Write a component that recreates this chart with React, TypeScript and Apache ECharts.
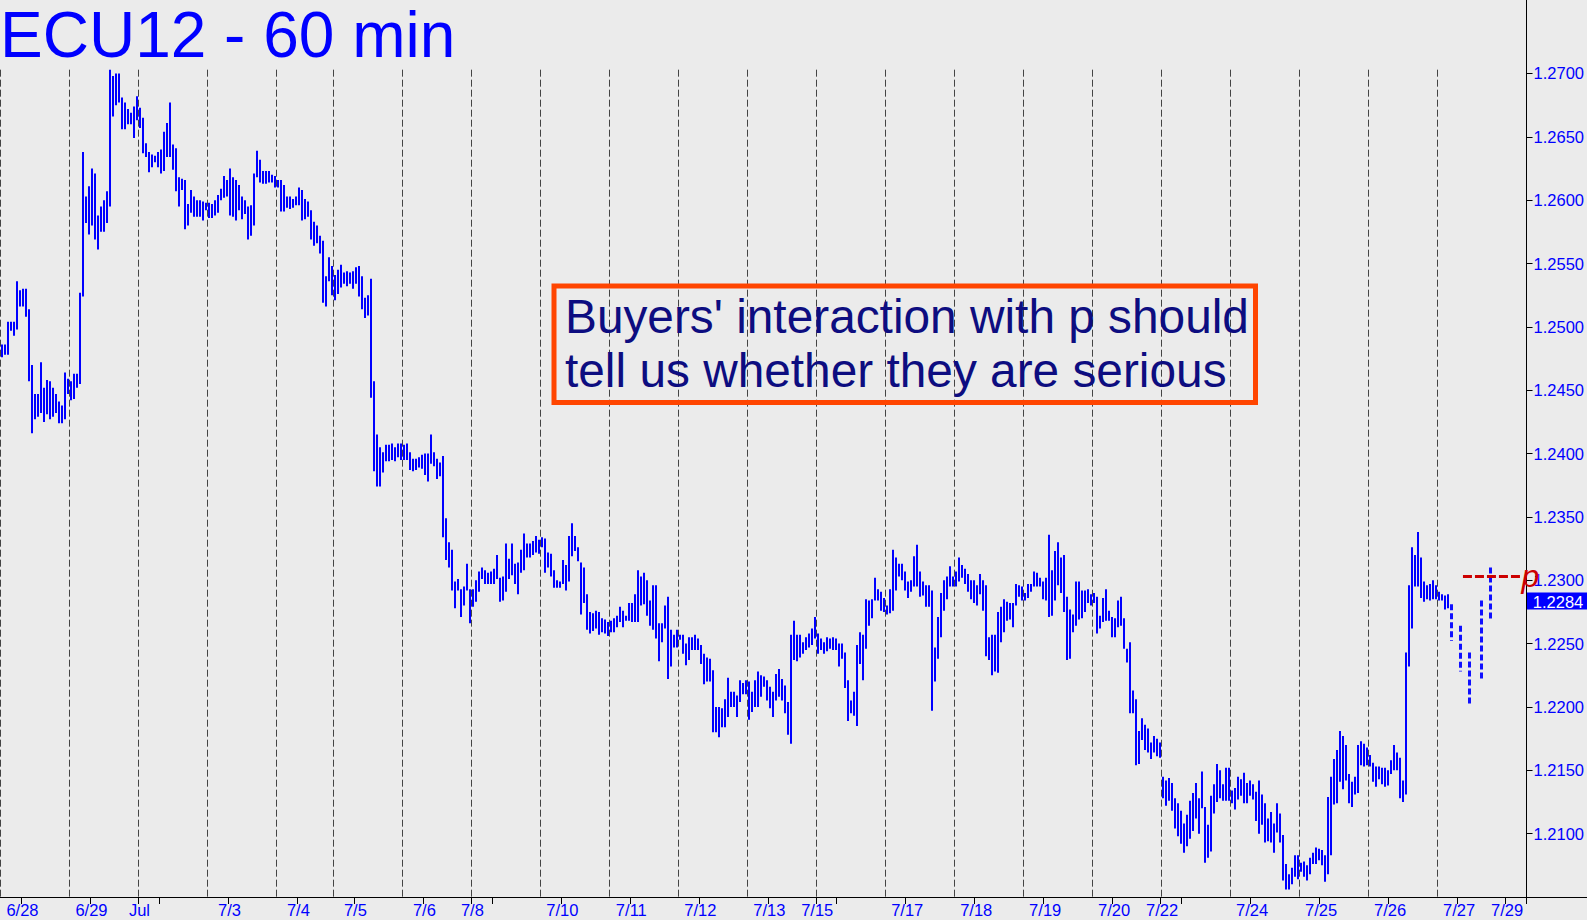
import React, { useEffect, useRef } from 'react';
import * as echarts from 'echarts';

const TITLE = 'ECU12 - 60 min';
const NOTE_LINES = ["Buyers' interaction with p should", 'tell us whether they are serious'];

// number of hourly slots on the x axis (bars + empty space at right)
const SLOT_COUNT = 509;

// hourly bar highs / lows, in bar order
const highs = [
  1.2486,1.2486,1.2504,1.2504,1.2504,1.2536,1.2529,1.2530,1.2530,1.2514,1.2470,1.2447,1.2447,1.2472,1.2452,1.2458,1.2457,1.2452,1.2447,1.2441,1.2438,1.2464,1.2459,
  1.2457,1.2463,1.2463,1.2527,1.2638,1.2603,1.2611,1.2625,1.2621,1.2588,1.2595,1.2600,1.2607,1.2703,1.2698,1.2700,1.2700,1.2681,1.2677,1.2672,1.2669,1.2674,1.2682,
  1.2673,1.2665,1.2645,1.2638,1.2636,1.2635,1.2638,1.2640,1.2654,1.2661,1.2677,1.2644,1.2641,1.2618,1.2617,1.2616,1.2597,1.2608,1.2603,1.2600,1.2600,1.2599,1.2598,
  1.2598,1.2597,1.2600,1.2604,1.2609,1.2619,1.2616,1.2625,1.2618,1.2616,1.2612,1.2603,1.2600,1.2595,1.2596,1.2621,1.2639,1.2632,1.2623,1.2623,1.2623,1.2620,1.2619,
  1.2616,1.2616,1.2612,1.2603,1.2603,1.2601,1.2603,1.2610,1.2608,1.2601,1.2599,1.2592,1.2583,1.2580,1.2572,1.2568,1.2540,1.2555,1.2548,
  1.2541,1.2545,1.2549,1.2543,1.2544,1.2543,1.2544,1.2547,1.2548,1.2540,1.2523,1.2525,1.2538,1.2457,1.2415,1.2405,1.2401,1.2407,1.2407,1.2408,1.2405,1.2408,1.2408,
  1.2407,1.2408,1.2401,1.2396,1.2396,1.2397,1.2399,1.2400,1.2400,1.2415,1.2401,1.2396,1.2393,1.2398,1.2349,1.2330,1.2324,1.2299,1.2301,1.2293,1.2295,1.2313,1.2293,
  1.2293,1.2300,1.2307,1.2310,1.2308,1.2306,1.2307,1.2309,1.2320,1.2302,1.2303,1.2329,1.2317,1.2329,1.2313,1.2314,1.2324,1.2337,1.2329,1.2329,1.2331,1.2335,1.2332,
  1.2334,1.2333,1.2322,1.2321,1.2308,1.2300,1.2299,1.2316,1.2312,1.2335,1.2345,1.2335,1.2326,1.2314,1.2310,1.2289,1.2275,1.2274,1.2276,1.2275,1.2270,1.2269,1.2267,
  1.2268,1.2270,1.2272,1.2279,1.2276,1.2272,1.2282,1.2282,1.2289,1.2308,1.2303,1.2306,1.2300,1.2284,1.2296,1.2296,1.2266,1.2266,1.2280,1.2287,1.2261,1.2257,1.2261,
  1.2257,1.2257,1.2250,1.2255,1.2255,1.2257,1.2254,1.2249,1.2242,1.2239,1.2238,1.2229,1.2200,1.2200,1.2199,1.2206,1.2223,1.2212,1.2212,1.2209,1.2221,1.2219,1.2221,
  1.2220,1.2212,1.2221,1.2228,1.2225,1.2224,1.2221,1.2216,1.2212,1.2226,1.2230,1.2222,1.2217,1.2204,1.2257,1.2268,1.2257,1.2257,1.2251,1.2255,1.2258,1.2262,1.2271,
  1.2258,1.2254,1.2251,1.2255,1.2254,1.2255,1.2254,1.2250,1.2250,1.2243,1.2221,1.2205,1.2212,1.2249,1.2259,1.2257,1.2285,1.2284,1.2285,1.2302,1.2293,1.2291,1.2286,
  1.2280,1.2293,1.2324,1.2318,1.2313,1.2313,1.2307,1.2299,1.2300,1.2319,1.2328,1.2307,1.2299,1.2296,1.2296,1.2292,1.2247,1.2271,1.2290,1.2300,1.2303,1.2311,1.2303,
  1.2307,1.2318,1.2312,1.2309,1.2305,1.2300,1.2300,1.2296,1.2305,1.2300,1.2296,1.2255,1.2257,1.2257,1.2275,1.2279,1.2285,1.2283,1.2282,1.2282,1.2297,1.2296,1.2295,
  1.2290,1.2297,1.2297,1.2307,1.2306,1.2302,1.2299,1.2302,1.2336,1.2308,1.2323,1.2330,1.2318,1.2320,1.2287,1.2277,1.2273,1.2299,1.2299,1.2292,1.2292,1.2293,1.2289,
  1.2290,1.2287,1.2272,1.2286,1.2293,1.2276,1.2271,1.2270,1.2284,1.2287,1.2270,1.2246,1.2251,1.2213,1.2206,1.2181,1.2191,1.2186,1.2183,1.2172,1.2177,1.2175,1.2172,
  1.2145,1.2142,1.2144,1.2140,1.2128,1.2124,1.2118,1.2108,1.2115,1.2126,1.2132,1.2140,1.2128,1.2149,1.2121,1.2107,1.2130,1.2139,1.2155,1.2150,1.2139,1.2152,1.2152,
  1.2134,1.2136,1.2145,1.2143,1.2148,1.2140,1.2142,1.2139,1.2133,1.2142,1.2131,1.2124,1.2112,1.2117,1.2108,1.2124,1.2116,1.2099,1.2076,1.2068,1.2073,1.2083,1.2083,
  1.2077,1.2078,1.2075,1.2081,1.2085,1.2089,1.2088,1.2087,1.2083,1.2129,1.2145,1.2159,1.2166,1.2181,1.2177,1.2170,1.2147,1.2141,1.2145,1.2170,1.2173,1.2171,1.2168,
  1.2162,1.2156,1.2153,1.2153,1.2152,1.2152,1.2150,1.2158,1.2170,1.2164,1.2160,1.2142,1.2243,1.2296,1.2326,1.2320,1.2338,1.2318,1.2299,1.2296,1.2297,1.2300,1.2296,
  1.2291,1.2289,1.2288,1.2289,
];

const lows = [
  1.2476,1.2478,1.2478,1.2497,1.2493,1.2498,1.2516,1.2516,1.2508,1.2457,1.2416,1.2427,1.2429,1.2432,1.2425,1.2431,1.2427,1.2429,1.2432,1.2424,1.2424,1.2427,1.2447,
  1.2442,1.2443,1.2452,1.2455,1.2524,1.2582,1.2573,1.2580,1.2569,1.2561,1.2575,1.2575,1.2582,1.2595,1.2666,1.2675,1.2677,1.2656,1.2656,1.2660,1.2660,1.2649,1.2663,
  1.2657,1.2637,1.2634,1.2622,1.2626,1.2630,1.2626,1.2621,1.2623,1.2634,1.2634,1.2624,1.2607,1.2595,1.2608,1.2577,1.2580,1.2590,1.2587,1.2587,1.2587,1.2584,1.2592,
  1.2586,1.2586,1.2588,1.2590,1.2600,1.2602,1.2603,1.2588,1.2587,1.2584,1.2592,1.2585,1.2589,1.2569,1.2572,1.2580,1.2618,1.2614,1.2613,1.2613,1.2614,1.2614,1.2610,
  1.2610,1.2591,1.2591,1.2594,1.2593,1.2594,1.2596,1.2596,1.2584,1.2585,1.2587,1.2569,1.2564,1.2566,1.2558,1.2519,1.2516,1.2536,1.2525,
  1.2521,1.2526,1.2531,1.2534,1.2532,1.2534,1.2530,1.2534,1.2524,1.2514,1.2507,1.2509,1.2444,1.2386,1.2374,1.2374,1.2385,1.2394,1.2394,1.2395,1.2394,1.2397,1.2395,
  1.2395,1.2395,1.2387,1.2386,1.2387,1.2389,1.2388,1.2383,1.2378,1.2392,1.2390,1.2380,1.2382,1.2334,1.2316,1.2310,1.2292,1.2278,1.2292,1.2271,1.2280,1.2292,1.2266,
  1.2279,1.2283,1.2291,1.2301,1.2297,1.2297,1.2297,1.2297,1.2301,1.2283,1.2284,1.2291,1.2301,1.2304,1.2297,1.2289,1.2306,1.2308,1.2318,1.2318,1.2320,1.2322,1.2321,
  1.2326,1.2306,1.2310,1.2303,1.2294,1.2294,1.2294,1.2297,1.2292,1.2299,1.2319,1.2323,1.2315,1.2273,1.2282,1.2261,1.2258,1.2260,1.2262,1.2257,1.2259,1.2258,1.2256,
  1.2259,1.2259,1.2263,1.2267,1.2263,1.2268,1.2268,1.2267,1.2267,1.2267,1.2280,1.2281,1.2272,1.2264,1.2261,1.2254,1.2236,1.2251,1.2262,1.2222,1.2232,1.2247,1.2247,
  1.2253,1.2242,1.2233,1.2237,1.2245,1.2245,1.2245,1.2234,1.2218,1.2220,1.2220,1.2180,1.2180,1.2176,1.2184,1.2184,1.2192,1.2200,1.2200,1.2192,1.2204,1.2210,1.2210,
  1.2190,1.2196,1.2200,1.2200,1.2208,1.2216,1.2205,1.2199,1.2192,1.2205,1.2208,1.2205,1.2195,1.2178,1.2171,1.2237,1.2236,1.2239,1.2242,1.2245,1.2247,1.2249,1.2254,
  1.2242,1.2245,1.2242,1.2244,1.2246,1.2245,1.2245,1.2232,1.2238,1.2215,1.2189,1.2195,1.2193,1.2185,1.2234,1.2221,1.2246,1.2264,1.2270,1.2284,1.2284,1.2276,1.2275,
  1.2273,1.2274,1.2276,1.2292,1.2303,1.2300,1.2292,1.2286,1.2291,1.2295,1.2295,1.2287,1.2288,1.2279,1.2279,1.2197,1.2220,1.2238,1.2255,1.2276,1.2285,1.2295,1.2295,
  1.2295,1.2299,1.2302,1.2297,1.2291,1.2285,1.2282,1.2280,1.2289,1.2276,1.2240,1.2237,1.2225,1.2228,1.2227,1.2251,1.2259,1.2268,1.2269,1.2263,1.2280,1.2287,1.2284,
  1.2284,1.2286,1.2291,1.2295,1.2295,1.2295,1.2285,1.2284,1.2271,1.2272,1.2284,1.2296,1.2290,1.2275,1.2237,1.2238,1.2259,1.2264,1.2269,1.2270,1.2275,1.2282,1.2280,
  1.2282,1.2258,1.2262,1.2267,1.2268,1.2268,1.2255,1.2255,1.2263,1.2264,1.2246,1.2235,1.2195,1.2195,1.2154,1.2155,1.2174,1.2166,1.2164,1.2159,1.2164,1.2161,1.2160,
  1.2128,1.2122,1.2126,1.2118,1.2104,1.2098,1.2092,1.2085,1.2090,1.2096,1.2102,1.2112,1.2100,1.2120,1.2077,1.2081,1.2086,1.2116,1.2125,1.2128,1.2126,1.2126,1.2126,
  1.2124,1.2119,1.2127,1.2130,1.2124,1.2124,1.2130,1.2127,1.2110,1.2100,1.2107,1.2093,1.2094,1.2093,1.2085,1.2101,1.2093,1.2063,1.2056,1.2056,1.2060,1.2066,1.2064,
  1.2070,1.2066,1.2063,1.2068,1.2076,1.2076,1.2079,1.2075,1.2062,1.2068,1.2083,1.2123,1.2124,1.2141,1.2135,1.2142,1.2124,1.2121,1.2131,1.2132,1.2154,1.2153,1.2154,
  1.2153,1.2141,1.2137,1.2143,1.2139,1.2137,1.2138,1.2147,1.2150,1.2150,1.2128,1.2125,1.2131,1.2232,1.2262,1.2295,1.2295,1.2286,1.2283,1.2285,1.2284,1.2285,1.2285,
  1.2284,1.2284,1.2277,1.2278,
];

// projected (dashed) bars drawn by the analyst
const projSlots = [483, 486, 489, 493, 496];
const projHighs = [1.2281, 1.2264, 1.2243, 1.2284, 1.2310];
const projLows = [1.2252, 1.2228, 1.2202, 1.2220, 1.2268];

// session separators (slot boundaries)
const dayBreaks = [0, 23, 46, 69, 92, 111, 134, 157, 180, 203, 226, 249, 272, 295, 318, 341, 364, 387, 410, 433, 456, 479];

// x-axis ticks and their labels
const tickSlots = [7, 30, 46, 53, 76, 99, 118, 141, 157, 164, 187, 210, 233, 256, 272, 279, 302, 325, 348, 371, 387, 394, 417, 440, 463, 486, 502];
const tickTexts = ['6/28', '6/29', 'Jul', '', '7/3', '7/4', '7/5', '7/6', '7/8', '', '7/10', '7/11', '7/12', '7/13', '7/15', '', '7/17', '7/18', '7/19', '7/20', '7/22', '', '7/24', '7/25', '7/26', '7/27', '7/29'];

// y-axis tick values
const yTicks = [1.21, 1.215, 1.22, 1.225, 1.23, 1.235, 1.24, 1.245, 1.25, 1.255, 1.26, 1.265, 1.27];

const Y_MIN = 1.205;
const Y_MAX = 1.2758;
const DIV_TOP = 1.2703;

const PIVOT_LEVEL = 1.2303;
const PIVOT_FROM = 487.8;
const PIVOT_TO = 507.3;
const LAST_PRICE = 1.2284;

const FONT = '"Liberation Sans", Arial, Helvetica, sans-serif';
const BLUE = '#0000ff';
const AXIS_FONT = 16.5;

export default function App() {
  const ref = useRef<HTMLDivElement | null>(null);

  useEffect(() => {
    document.body.style.margin = '0';
    document.body.style.overflow = 'hidden';
    if (!ref.current) return;
    const chart = echarts.init(ref.current, undefined, { renderer: 'svg' });

    const categories = Array.from({ length: SLOT_COUNT }, (_, i) => String(i));
    const tickSet = new Set(tickSlots);
    const labelMap: Record<number, string> = {};
    tickSlots.forEach((s, k) => { labelMap[s] = tickTexts[k]; });

    const barData = highs.map((h, i) => [i, h, lows[i]]);
    const projData = projSlots.map((s, k) => [s, projHighs[k], projLows[k]]);
    const divData = dayBreaks.map((b) => [b, DIV_TOP, Y_MIN]);

    const baseGraphic: any[] = [
      {
        id: 'title',
        type: 'text',
        x: 0,
        y: 35,
        style: { text: TITLE, fill: BLUE, fontSize: 64, fontFamily: FONT, verticalAlign: 'middle', align: 'left' },
      },
      {
        id: 'xaxisExt',
        type: 'line',
        shape: { x1: 1527, y1: 897.5, x2: 1587, y2: 897.5 },
        style: { stroke: '#000', lineWidth: 1 },
      },
      {
        id: 'noteBox',
        type: 'rect',
        shape: { x: 554, y: 286, width: 701.5, height: 116.5 },
        style: { fill: 'none', stroke: '#ff4500', lineWidth: 5 },
        z: 10,
      },
      {
        id: 'note1',
        type: 'text',
        x: 565,
        y: 316.5,
        style: { text: NOTE_LINES[0], fill: '#0d0d80', fontSize: 47.8, fontFamily: FONT, verticalAlign: 'middle', align: 'left' },
        z: 10,
      },
      {
        id: 'note2',
        type: 'text',
        x: 565,
        y: 370.5,
        style: { text: NOTE_LINES[1], fill: '#0d0d80', fontSize: 47.8, fontFamily: FONT, verticalAlign: 'middle', align: 'left' },
        z: 10,
      },
    ];

    const option: any = {
      animation: false,
      backgroundColor: '#ebebeb',
      grid: { left: 0, right: 60, top: 0, bottom: 23, containLabel: false },
      xAxis: [
        {
          type: 'category',
          data: categories,
          boundaryGap: true,
          axisLine: { show: true, onZero: false, lineStyle: { color: '#000', width: 1 } },
          axisTick: { show: true, length: 7, interval: (i: number) => tickSet.has(i), lineStyle: { color: '#000' } },
          axisLabel: {
            show: true,
            interval: (i: number) => tickSet.has(i),
            formatter: (v: string) => labelMap[Number(v)] ?? '',
            color: BLUE,
            fontSize: AXIS_FONT,
            fontFamily: FONT,
            margin: 4,
          },
          splitLine: { show: false },
        },
        { type: 'value', min: 0, max: SLOT_COUNT, show: false },
      ],
      yAxis: {
        type: 'value',
        position: 'right',
        min: Y_MIN,
        max: Y_MAX,
        interval: 0.005,
        axisLine: { show: true, onZero: false, lineStyle: { color: '#000', width: 1 } },
        axisTick: { show: true, length: 6, customValues: yTicks, lineStyle: { color: '#000' } },
        axisLabel: {
          customValues: yTicks,
          formatter: (v: number) => (v < 1.2075 || v > 1.2725 ? '' : v.toFixed(4)),
          color: BLUE,
          fontSize: AXIS_FONT,
          fontFamily: FONT,
          margin: 7,
        },
        splitLine: { show: false },
      },
      series: [
        {
          type: 'custom',
          name: 'sessions',
          xAxisIndex: 1,
          yAxisIndex: 0,
          silent: true,
          data: divData,
          z: 1,
          renderItem: (_p: any, api: any) => {
            const b = api.value(0);
            const top = api.coord([b, api.value(1)]);
            const bot = api.coord([b, api.value(2)]);
            const x = Math.round(top[0]) + 0.5;
            return {
              type: 'line',
              shape: { x1: x, y1: top[1], x2: x, y2: bot[1] },
              style: { stroke: '#444444', lineWidth: 1, lineDash: [7, 3] },
            };
          },
        },
        {
          type: 'custom',
          name: 'ECU12',
          xAxisIndex: 0,
          yAxisIndex: 0,
          silent: true,
          data: barData,
          z: 3,
          renderItem: (_p: any, api: any) => {
            const i = api.value(0);
            const p1 = api.coord([i, api.value(1)]);
            const p2 = api.coord([i, api.value(2)]);
            const x = Math.floor(p1[0]) + 1;
            return {
              type: 'line',
              shape: { x1: x, y1: p1[1], x2: x, y2: p2[1] },
              style: { stroke: BLUE, lineWidth: 2 },
            };
          },
        },
        {
          type: 'custom',
          name: 'projection',
          xAxisIndex: 0,
          yAxisIndex: 0,
          silent: true,
          data: projData,
          z: 3,
          renderItem: (_p: any, api: any) => {
            const i = api.value(0);
            const p1 = api.coord([i, api.value(1)]);
            const p2 = api.coord([i, api.value(2)]);
            const x = Math.floor(p1[0]) + 1.5;
            return {
              type: 'line',
              shape: { x1: x, y1: p1[1], x2: x, y2: p2[1] },
              style: { stroke: '#1010ff', lineWidth: 3, lineDash: [6, 3] },
            };
          },
        },
        {
          type: 'line',
          name: 'p',
          xAxisIndex: 1,
          yAxisIndex: 0,
          silent: true,
          symbol: 'none',
          showSymbol: false,
          z: 4,
          data: [[PIVOT_FROM, PIVOT_LEVEL], [PIVOT_TO, PIVOT_LEVEL]],
          lineStyle: { color: '#cc0000', width: 3, type: [9, 3] },
          endLabel: {
            show: true,
            formatter: 'p',
            color: '#cc0000',
            fontSize: 32,
            fontStyle: 'italic',
            fontFamily: FONT,
            distance: 0,
          },
        },
      ],
      graphic: baseGraphic,
    };

    chart.setOption(option);

    // last-price flag on the price axis, placed through the y scale
    const yPx = chart.convertToPixel({ yAxisIndex: 0 }, LAST_PRICE) as number;
    chart.setOption({
      graphic: [
        ...baseGraphic,
        {
          id: 'lastBox',
          type: 'rect',
          shape: { x: 1527, y: Math.round(yPx) - 8.5, width: 60, height: 17 },
          style: { fill: BLUE },
          z: 20,
        },
        {
          id: 'lastText',
          type: 'text',
          x: 1558,
          y: Math.round(yPx) + 0.5,
          style: {
            text: LAST_PRICE.toFixed(4),
            fill: '#ffffff',
            fontSize: AXIS_FONT,
            fontFamily: FONT,
            align: 'center',
            verticalAlign: 'middle',
          },
          z: 21,
        },
      ],
    });

    return () => chart.dispose();
  }, []);

  return <div ref={ref} style={{ width: 1587, height: 920 }} />;
}
